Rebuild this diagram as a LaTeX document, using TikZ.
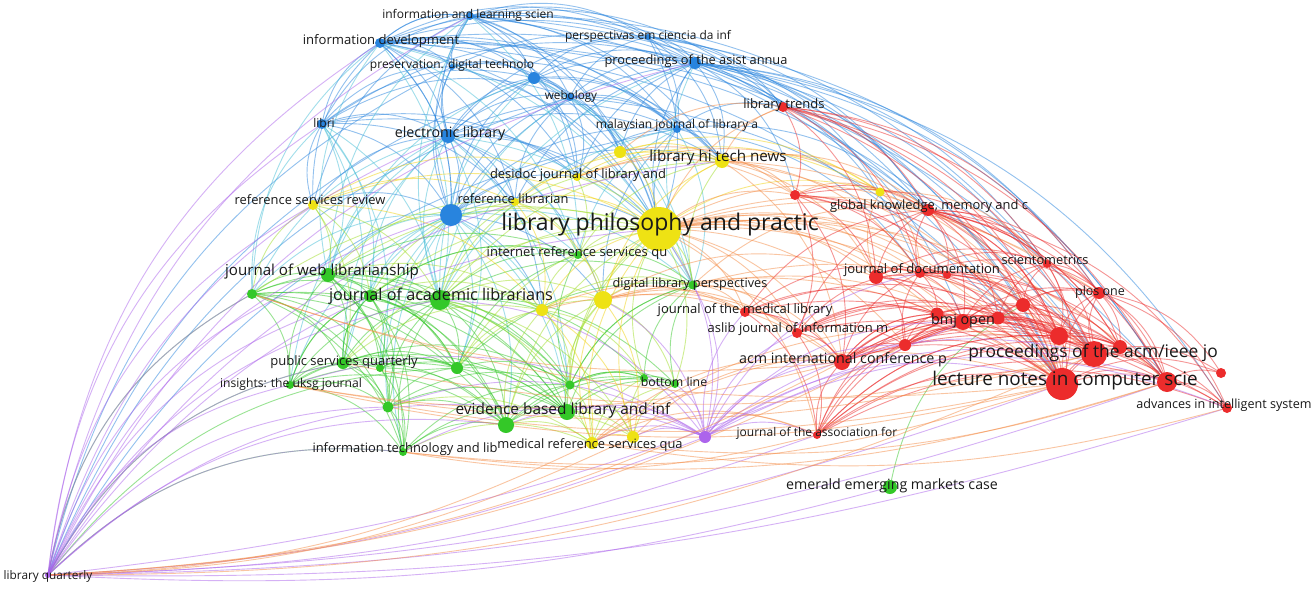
\documentclass[tikz,border=0pt]{standalone}
\usepackage{fontspec}
\setmainfont{Open Sans}
\usetikzlibrary{backgrounds,calc}
\definecolor{vred}{RGB}{236,44,44}
\definecolor{vgreen}{RGB}{52,200,40}
\definecolor{vblue}{RGB}{40,132,222}
\definecolor{vyellow}{RGB}{238,226,20}
\definecolor{vpurple}{RGB}{172,100,236}
\definecolor{vteal}{RGB}{70,190,215}
\definecolor{vlime}{RGB}{160,222,40}
\definecolor{vorange}{RGB}{245,140,70}
\tikzset{
  jn/.style={circle,inner sep=0pt,minimum size=#1},
  lbl/.style={inner sep=0pt,text=black!90,text height=0.72em,text depth=0.2em,font=\fontsize{#1}{#1}\selectfont},
  ed/.style={line width=0.45pt,draw opacity=0.5,draw=#1},
}
% curved edge #3 -- #4, bulging to the north of the west node (#5=1), or south (#5=-1)
\newcommand\vosarc[5]{%
  \path (#3); \pgfgetlastxy{\vxa}{\vya}%
  \path (#4); \pgfgetlastxy{\vxb}{\vyb}%
  \ifdim\vxa<\vxb \pgfmathsetmacro\vang{#5*#2}\else\pgfmathsetmacro\vang{-#5*#2}\fi
  \pgfmathsetmacro\vangb{-\vang}%
  \draw[#1] (#3.center) .. controls ($(#3)!0.39!\vang:(#4)$) and ($(#4)!0.39!\vangb:(#3)$) .. (#4.center);}
\newcommand\vosedge[4]{\vosarc{#1}{#2}{#3}{#4}{1}}
\newcommand\vossouth[4]{\vosarc{#1}{#2}{#3}{#4}{-1}}
\begin{document}
\begin{tikzpicture}[x=1pt,y=-1pt,scale=0.5,every node/.style={transform shape}]
\useasboundingbox (0,0) rectangle (1315,589);
\foreach \n/\x/\y/\d/\c in {
  ils/470/16/8/vblue, idev/380/43/10/vblue, pres/452/67/6/vblue, b1/534/78/12/vblue,
  persp/648/37/6/vblue, asist/695/63/12/vblue, webo/570/97/8/vblue, libri/322/124/10/vblue,
  elib/448/136/14/vblue, mjla/677/129/8/vblue, b2/451/215/22/vblue,
  lpp/659/229/44/vyellow, lhtn/722/161/14/vyellow, desi/577/177/8/vyellow, y1/620/152/12/vyellow,
  y2/880/192/9/vyellow, rsr/313/205/10/vyellow, rlib/515/202/8/vyellow, y3/603/300/18/vyellow,
  y4/542/310/12/vyellow, mrsq/592/443/12/vyellow, y5/633/437/12/vyellow,
  irsq/578/255/8/vgreen, dlp/693/285/9/vgreen, jwl/328/275/14/vgreen, g1/252/294/10/vgreen,
  jal/440/300/20/vgreen, g2/370/296/12/vgreen, psq/343/363/12/vgreen, g3/380/368/8/vgreen,
  g4/457/368/12/vgreen, uksg/290/385/8/vgreen, g5/388/407/11/vgreen, ebl/567/412/16/vgreen,
  g6/506/425/16/vgreen, g7/570/385/9/vgreen, itl/403/452/8/vgreen, bline/675/384/8/vgreen,
  g8/644/378/8/vgreen, emer/890/487/14/vgreen,
  lq/48/575/6/vpurple, p1/705/437/12/vpurple,
  ltr/783/107/10/vred, r1/795/195/10/vred, gkm/928/210/12/vred, jdoc/920/273/10/vred,
  r2/876/277/14/vred, r3/947/275/8/vred, scim/1047/264/8/vred, plos/1099/293/12/vred,
  jmla/745/312/10/vred, aslib/797/333/10/vred, bmj/963/322/16/vred, r4/937/314/13/vred,
  r5/998/318/13/vred, r6/1023/305/14/vred, r7/905/345/12/vred, r8/1059/336/18/vred,
  acm/842/362/16/vred, pacm/1094/354/26/vred, r9/1120/347/14/vred, lncs/1062/384/32/vred,
  r10/1167/382/20/vred, r11/1221/373/10/vred, ais/1227/408/10/vred, jasis/817/435/8/vred}
  \node[jn=\d,fill=\c] (\n) at (\x,\y) {};
\begin{pgfonlayer}{background}
\fill[white] (0,0) rectangle (1315,589);
% blue
\foreach \s/\T in {
  idev/{ils,pres,b1,webo,elib,b2,persp,asist,mjla,lpp,lhtn,desi,ltr,gkm,lncs,pacm,r10,y1,rlib,libri,rsr},
  ils/{persp,asist,b1,webo,mjla,lhtn,lpp,y1,ltr,gkm,lncs,desi,pacm,scim,idev,pres,libri,elib,b2,rsr},
  asist/{ltr,lhtn,r1,gkm,jdoc,scim,plos,lncs,pacm,r10,bmj,y2,ais,persp,webo,b1,elib,b2,libri,lpp,mjla,desi,y1,pres,rlib},
  elib/{webo,b1,mjla,lpp,lhtn,desi,rlib,y3,y4,libri,rsr},
  libri/{b2,rlib,lpp,desi,webo,b1,rsr},
  b2/{lpp,rlib,y3,y4,desi,lhtn,webo,mjla,rsr,elib,b1,pres,idev},
  webo/{mjla,lpp,lhtn,y1,lncs,b1,desi,rlib},
  b1/{mjla,lpp,y1,desi,lhtn},
  pres/{b1,webo,elib,lpp,mjla,libri},
  persp/{lhtn,mjla,ltr,lncs,gkm,webo,b1,elib,lpp,r10},
  mjla/{lhtn,ltr,gkm,jdoc,lpp,desi,y3},
  lq/{b1,webo,pres,mjla}}
  \foreach \t in \T {\vosedge{ed=vblue}{25}{\s}{\t}}
% blue-green
\foreach \s/\T in {
  idev/{jal,dlp,irsq,jwl,g1}, ils/{jal,irsq,jwl},
  elib/{irsq,dlp,g4,ebl,jwl,g1,jal,g2,psq,uksg}, libri/{jal,jwl,psq,g2,g1,g3},
  b2/{irsq,g4,ebl,g6,dlp,g7,jwl,g1,g2,psq,uksg,jal,g5,itl,g3},
  webo/{dlp,jal}, b1/{dlp,jal,jwl}, mjla/{dlp,irsq,jal}, asist/{dlp,jal}}
  \foreach \t in \T {\vosedge{ed=vteal}{25}{\s}{\t}}
% green
\foreach \s/\T in {
  jal/{irsq,g4,g7,ebl,g6,dlp,bline,g8,jwl,g1,g2,psq,uksg,g5,itl,g3},
  jwl/{g2,psq,g3,g4,g5,itl,ebl,g6,irsq,g7,g1,uksg},
  g1/{g2,psq,uksg,g5,itl,ebl,g6,g4,g3,lq},
  ebl/{g7,dlp,bline,g8,g6,g5,itl,psq,g4,uksg,g3,g2},
  g6/{g7,g8,bline,g5,itl,psq,g4,uksg,g3,g2},
  g2/{g3,g4,g5,itl,psq,uksg,irsq,g7},
  g3/{g5,itl,g4},
  psq/{g3,g4,g5,itl,g2,g7,uksg,lq}, g5/{itl,g4,g7,uksg}, itl/{g7,uksg,lq},
  uksg/{g3,g4,g2}, g4/{g7,irsq,dlp,g3,g2,lq}, irsq/{dlp,g7,g2},
  g7/{bline,g8,dlp}, dlp/{bline,g8,g7}, g8/{bline,g7}, emer/{r6}}
  \foreach \t in \T {\vosedge{ed=vgreen}{25}{\s}{\t}}
% yellow-green
\foreach \s/\T in {
  lpp/{dlp,bline,irsq,jal,g4,ebl,g1,g6,jwl,psq,g7,g8,g2},
  y3/{dlp,bline,irsq,g7,ebl,jal,g4,g6},
  y4/{irsq,g7,dlp,g8,g2,g4,g6,jal,jwl,psq},
  mrsq/{g8,bline,ebl,g6,g5,itl,g7}, y5/{bline,g8,ebl,g6,g7},
  desi/{irsq,dlp,jal}, rlib/{irsq,jal,jwl,g2}, rsr/{jwl,jal,g2,psq,g1},
  jal/{lhtn,mrsq,y5}, lhtn/{dlp,irsq}}
  \foreach \t in \T {\vosedge{ed=vlime}{25}{\s}{\t}}
% yellow
\foreach \s/\T in {
  lpp/{lhtn,y2,desi,rlib,y3,y4,rsr,mrsq,y1,y5}, lhtn/{y2,y1,desi,rlib,y3},
  y3/{y5,y4,mrsq,rlib}, y4/{mrsq,y5,rsr}, mrsq/{y5}, desi/{y1,y2,rlib,rsr},
  rlib/{y4,rsr}, y1/{y2}}
  \foreach \t in \T {\vosedge{ed=vyellow!85!orange}{25}{\s}{\t}}
% yellow-red
\foreach \s/\T in {
  lpp/{r1,gkm,jdoc,r2,r3,jmla,aslib,acm,bmj,r7,lncs,pacm,scim,jasis,ltr,r4,r10,plos,r5,r6},
  lhtn/{r1,gkm,jdoc,ltr,lncs,pacm,r2,acm}, y3/{jmla,aslib,acm,lncs,r2},
  y4/{jmla,acm}, mrsq/{jasis,acm,lncs,pacm}, y5/{jasis,acm},
  y2/{gkm,jdoc,r2,scim,lncs,r1}, desi/{gkm,r1}, y1/{ltr,r1},
  dlp/{jmla,aslib,acm,lncs,pacm,gkm}}
  \foreach \t in \T {\vosedge{ed=vorange}{25}{\s}{\t}}
% red
\foreach \s/\T in {
  lncs/{acm,jasis,aslib,jmla,r7,bmj,r4,r5,r6,jdoc,r2,gkm,r1,ltr,scim,r3,pacm,r9,r10,r11,ais,plos,r8},
  pacm/{acm,jasis,r8,bmj,r5,r6,jdoc,gkm,scim,r7,aslib,r3,r2,ltr,r9,r10,plos,ais,r11},
  gkm/{r1,ltr,r2,aslib,jmla,jdoc,scim,plos,r6,r8,bmj,r10,r3,r5,r9,ais},
  jdoc/{r3,bmj,r5,r6,scim,plos,r8,r10,r4,r2,jmla,aslib,acm,r7,r1},
  acm/{r7,bmj,r4,r10,r5,r8,ais,aslib,jmla,jasis},
  jasis/{r7,r10,bmj,r8,ais,jmla,aslib},
  scim/{plos,r8,r9,r10,r6,r5,bmj,r2,r1},
  bmj/{r5,r6,r8,plos,r9,r4,r7,aslib},
  plos/{r9,r10,ais,r11,r8,r6,r5},
  r8/{r9,r10,r5,r4,r7,aslib,jmla,acm,jasis,gkm,r1,ltr},
  r5/{r4,r7,acm,jasis,aslib}, r9/{acm,jasis,r4,r7,jdoc,gkm}, r4/{jasis,acm,jmla},
  ltr/{r1,jdoc,scim,plos,r10,r2}, r1/{r2,r3,acm,aslib}, r2/{r3,r4,r7,bmj},
  r7/{r4,r5,r8}, aslib/{r7,jmla,r4}, r10/{r11,ais,r9,r8}, r6/{r8,r9,r5}}
  \foreach \t in \T {\vosedge{ed=vred}{25}{\s}{\t}}
% purple
\foreach \s/\T in {
  lq/{idev,ils,libri,elib,b2,jwl,g1,jal,uksg,psq,g2,rsr,lpp,lhtn,asist,itl,g5,ebl,g6},
  p1/{jasis,acm,lncs,pacm,r10,ais,aslib,jmla,r7,bmj,jdoc,jal,ebl,g6,mrsq,lpp,itl,uksg,y3,y5,g5,g8,bline,dlp}}
  \foreach \t in \T {\vosedge{ed=vpurple}{25}{\s}{\t}}
% arcs under the map
\foreach \s/\T in {lq/{jasis,lncs,r10,p1,emer,ais,bmj}}
  \foreach \t in \T {\vossouth{ed=vpurple}{9}{\s}{\t}}
\foreach \s/\T in {lq/{acm,pacm,mrsq,y5,r7}, uksg/{lncs,pacm,acm}, itl/{lncs,jasis,r10},
  g1/{lncs,acm}, psq/{pacm}, g5/{lncs}, mrsq/{r10,ais}}
  \foreach \t in \T {\vossouth{ed=vorange}{12}{\s}{\t}}
\end{pgfonlayer}
\foreach \n/\x/\y/\f/\t in {
  ils/468/16/12/information and learning scien,
  idev/381/42/13.1/information development,
  pres/452/66/12/preservation. digital technolo,
  persp/648/37/11.9/perspectivas em ciencia da inf,
  asist/696/62/12.8/proceedings of the asist annua,
  webo/571/97/11.7/webology,
  libri/324/125/12/libri,
  elib/450/135/14.2/electronic library,
  mjla/677/126/12/malaysian journal of library a,
  ltr/784/106/13/library trends,
  lhtn/718/159/15.2/library hi tech news,
  desi/578/176/12.9/desidoc journal of library and,
  rsr/310/202/12.9/reference services review,
  rlib/513/201/12.9/reference librarian,
  lpp/660/228/23/library philosophy and practic,
  gkm/929/207/12.9/{global knowledge, memory and c},
  irsq/577/254/13/internet reference services qu,
  jwl/322/273/15.1/journal of web librarianship,
  jal/441/298/16.2/journal of academic librarians,
  dlp/690/285/12.7/digital library perspectives,
  jdoc/922/271/13.1/journal of documentation,
  scim/1045/262/12.8/scientometrics,
  plos/1100/293/12.5/plos one,
  jmla/745/311/13/journal of the medical library,
  aslib/798/330/13/aslib journal of information m,
  bmj/963/322/14.3/bmj open,
  acm/843/361/14.3/acm international conference p,
  pacm/1093/355/17.4/{proceedings of the acm/ieee jo},
  lncs/1065/383/18.9/lecture notes in computer scie,
  ais/1224/406/12.6/advances in intelligent system,
  psq/344/363/13/public services quarterly,
  uksg/291/385/12.1/insights: the uksg journal,
  ebl/563/412/15.4/evidence based library and inf,
  bline/674/384/12.3/bottom line,
  itl/405/450/12.9/information technology and lib,
  mrsq/590/446/12.9/medical reference services qua,
  jasis/817/434/12/journal of the association for,
  emer/892/487/14.2/emerald emerging markets case,
  lq/48/577/11.8/library quarterly}
  \node[lbl=\f] (\n-l) at (\x,\y) {\t};
\end{tikzpicture}
\end{document}
